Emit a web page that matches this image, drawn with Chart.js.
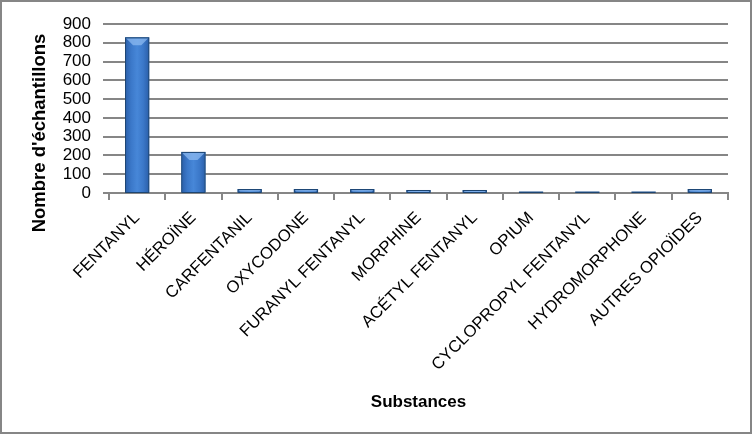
<!DOCTYPE html>
<html>
<head>
<meta charset="utf-8">
<script src="https://cdn.jsdelivr.net/npm/chart.js@4"></script>
<style>
  html, body { margin: 0; padding: 0; background: #fff; }
  #wrap { width: 752px; height: 434px; position: relative; }
</style>
</head>
<body>
<div id="wrap"><canvas id="c" width="752" height="434"></canvas></div>
<script>
const categories = ["FENTANYL", "HÉROÏNE", "CARFENTANIL", "OXYCODONE", "FURANYL FENTANYL", "MORPHINE", "ACÉTYL FENTANYL", "OPIUM", "CYCLOPROPYL FENTANYL", "HYDROMORPHONE", "AUTRES OPIOÏDES"];
const samples = [829, 219, 21, 21, 21, 16, 16, 7, 7, 7, 21];
const yTicks = [0, 100, 200, 300, 400, 500, 600, 700, 800, 900];
const yTitle = "Nombre d'échantillons";
const xTitle = "Substances";

const GRID = '#868686';
const FONT = '"Liberation Sans", Arial, sans-serif';

const framePlugin = {
  id: 'frame',
  beforeDraw(chart) {
    const c = chart.ctx;
    c.save();
    c.fillStyle = '#fff';
    c.fillRect(0, 0, chart.width, chart.height);
    c.restore();
  },
  afterDatasetsDraw(chart) {
    const c = chart.ctx;
    const meta = chart.getDatasetMeta(0);
    c.save();
    meta.data.forEach(bar => {
      const w = bar.width, x0 = bar.x - w / 2, x1 = bar.x + w / 2;
      const top = bar.y, base = bar.base;
      const h = base - top;
      if (h <= 0) return;
      const g = c.createLinearGradient(x0, 0, x1, 0);
      g.addColorStop(0, '#2a5ea8');
      g.addColorStop(0.25, '#3b78c9');
      g.addColorStop(0.5, '#4787d8');
      g.addColorStop(0.75, '#3b78c9');
      g.addColorStop(1, '#2a5ea8');
      c.fillStyle = g;
      c.fillRect(x0 + 1, top + 1, w - 2, h - 1);
      const bh = Math.min(7, h / 2);
      c.beginPath();
      c.moveTo(x0 + 1, top + 1);
      c.lineTo(x1 - 1, top + 1);
      c.lineTo(x1 - 1 - bh, top + 1 + bh);
      c.lineTo(x0 + 1 + bh, top + 1 + bh);
      c.closePath();
      c.fillStyle = 'rgba(140,185,240,0.75)';
      c.fill();
      c.strokeStyle = '#1d4571';
      c.lineWidth = 1;
      c.strokeRect(x0 + 0.5, top + 0.5, w - 1, h);
    });
    c.restore();
  },
  afterDraw(chart) {
    const c = chart.ctx;
    c.save();
    c.strokeStyle = GRID;
    c.lineWidth = 2;
    c.strokeRect(1, 1, chart.width - 2, chart.height - 2);
    c.fillStyle = '#000';
    c.textAlign = 'center';
    c.textBaseline = 'middle';
    c.font = 'bold 17px ' + FONT;
    c.fillText(xTitle, (chart.chartArea.left + chart.chartArea.right) / 2, 402);
    c.font = 'bold 18.5px ' + FONT;
    c.translate(40, 133);
    c.rotate(-Math.PI / 2);
    c.fillText(yTitle, 0, 0);
    c.restore();
  }
};

new Chart(document.getElementById('c'), {
  type: 'bar',
  data: {
    labels: categories,
    datasets: [{
      data: samples,
      backgroundColor: '#3b78c9',
      borderColor: '#1d4571',
      borderWidth: 0,
      barPercentage: 0.43,
      categoryPercentage: 1.0
    }]
  },
  options: {
    responsive: false,
    animation: false,
    devicePixelRatio: 1,
    layout: { padding: { top: 24, right: 24, left: 0, bottom: 0 } },
    plugins: { legend: { display: false }, tooltip: { enabled: false } },
    scales: {
      x: {
        offset: true,
        afterFit(scale) { scale.height = 434 - 193; },
        grid: { offset: true, drawOnChartArea: false, color: GRID, lineWidth: 2, tickLength: 7 },
        border: { display: true, color: GRID, width: 2 },
        ticks: {
          autoSkip: false, maxRotation: 45, minRotation: 45, padding: 8,
          color: '#000', font: { family: FONT, size: 16.7 }
        }
      },
      y: {
        min: 0, max: 900,
        afterFit(scale) { scale.width = 109; },
        afterBuildTicks(scale) { scale.ticks = yTicks.map(v => ({ value: v })); },
        grid: { color: GRID, lineWidth: 2, tickLength: 6 },
        border: { display: false },
        ticks: {
          autoSkip: false, padding: 12, color: '#000',
          font: { family: FONT, size: 17 }
        }
      }
    }
  },
  plugins: [framePlugin]
});
</script>
</body>
</html>
